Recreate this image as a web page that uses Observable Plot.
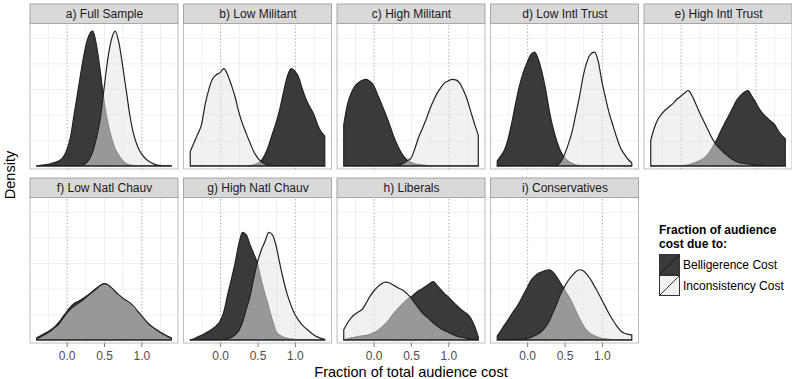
<!DOCTYPE html>
<html><head><meta charset="utf-8">
<script src="https://cdn.jsdelivr.net/npm/d3@7"></script>
<script src="https://cdn.jsdelivr.net/npm/@observablehq/plot@0.6"></script>
<style>
body{margin:0;background:#fff;font-family:"Liberation Sans",Arial,Helvetica,sans-serif;}
#wrap{position:relative;width:792px;height:379px;overflow:hidden;}
#wrap svg{position:absolute;left:0;top:0;}
.ylab{position:absolute;left:10px;top:175px;transform:translate(-50%,-50%) rotate(-90deg);font-size:14.5px;line-height:1;color:#000;white-space:nowrap;}
.xlab{position:absolute;left:411px;top:372px;transform:translate(-50%,-50%);font-size:14.5px;line-height:1;color:#000;white-space:nowrap;}
#legend{position:absolute;left:659px;top:223px;font-size:12px;color:#000;}
#legend .lt{font-weight:bold;line-height:14px;margin-bottom:3px;}
#legend .row{display:flex;align-items:center;height:21px;}
#legend .row svg{position:static;margin-right:3px;}
</style></head><body><div id="wrap"></div>
<script>
// x positions of the density estimates
const xs = [-0.4,-0.35,-0.3,-0.25,-0.2,-0.15,-0.1,-0.05,0,0.05,0.1,0.15,0.2,0.25,0.3,0.35,0.4,0.45,0.5,0.55,0.6,0.65,0.7,0.75,0.8,0.85,0.9,0.95,1,1.05,1.1,1.15,1.2,1.25,1.3,1.35,1.4];

const panelLabels = ["a) Full Sample","b) Low Militant","c) High Militant","d) Low Intl Trust","e) High Intl Trust","f) Low Natl Chauv","g) High Natl Chauv","h) Liberals","i) Conservatives"];
const panelCols = [1,2,3,4,5,1,2,3,4];
const panelRows = [1,1,1,1,1,2,2,2,2];

const seriesNames = ["Belligerence Cost","Inconsistency Cost"];

// Belligerence (B) and Inconsistency (I) densities per panel
const fullB = [0,0.01,0.02,0.03,0.05,0.07,0.1,0.16,0.3,0.55,1.0,1.45,1.9,2.3,2.55,2.63,2.35,1.85,1.27,0.85,0.55,0.33,0.2,0.1,0.04,0.02,0.01,0,0,0,0,0,0,0,0,0,0];
const fullI = [0,0,0,0,0,0,0,0,0,0,0,0,0.01,0.04,0.12,0.28,0.55,0.92,1.5,2.08,2.47,2.63,2.4,1.95,1.45,0.95,0.6,0.38,0.24,0.15,0.09,0.05,0.02,0.01,0,0,0];
const lowMilB = [0,0,0,0,0,0,0,0,0,0,0,0,0,0,0,0,0.01,0.02,0.05,0.1,0.22,0.4,0.63,0.85,1.12,1.45,1.75,1.9,1.85,1.73,1.5,1.3,1.15,1.02,0.82,0.67,0.58];
const lowMilI = [0.28,0.45,0.62,0.8,1.2,1.5,1.7,1.78,1.82,1.9,1.78,1.58,1.35,1.05,0.82,0.63,0.45,0.28,0.16,0.08,0.04,0.02,0.01,0,0,0,0,0,0,0,0,0,0,0,0,0,0];
const highMilB = [0.8,1.2,1.42,1.56,1.63,1.67,1.69,1.65,1.57,1.4,1.23,1.05,0.86,0.65,0.46,0.31,0.19,0.11,0.07,0.04,0.03,0.02,0.01,0,0,0,0,0,0,0,0,0,0,0,0,0,0];
const highMilI = [0,0,0,0,0,0,0,0,0,0,0,0,0,0,0.01,0.02,0.05,0.1,0.15,0.33,0.55,0.72,0.9,1.1,1.27,1.42,1.53,1.62,1.66,1.69,1.68,1.62,1.48,1.3,1.06,0.82,0.6];
const lowTrustB = [0.1,0.2,0.32,0.55,0.88,1.25,1.58,1.83,2.02,2.17,2.22,2.08,1.82,1.47,1.05,0.72,0.47,0.28,0.16,0.09,0.05,0.02,0.01,0,0,0,0,0,0,0,0,0,0,0,0,0,0];
const lowTrustI = [0,0,0,0,0,0,0,0,0,0,0,0,0,0,0,0,0.02,0.08,0.22,0.42,0.66,1.0,1.35,1.75,2.03,2.18,2.22,2.05,1.65,1.32,1.02,0.78,0.55,0.35,0.23,0.13,0.06];
const highTrustB = [0,0,0,0,0,0,0,0,0,0.01,0.02,0.04,0.07,0.1,0.14,0.2,0.3,0.42,0.56,0.72,0.86,1.0,1.14,1.28,1.37,1.44,1.47,1.37,1.25,1.12,1.02,0.95,0.88,0.82,0.7,0.6,0.53];
const highTrustI = [0.5,0.75,0.92,1.02,1.1,1.16,1.22,1.3,1.36,1.42,1.47,1.38,1.22,1.05,0.9,0.75,0.6,0.47,0.37,0.3,0.23,0.17,0.12,0.08,0.06,0.05,0.04,0.03,0.02,0.01,0.01,0,0,0,0,0,0];
const lowChauvB = [0.04,0.08,0.12,0.16,0.21,0.27,0.35,0.45,0.55,0.64,0.71,0.75,0.79,0.84,0.89,0.95,1.01,1.06,1.1,1.07,1.0,0.92,0.85,0.79,0.74,0.68,0.6,0.52,0.45,0.37,0.3,0.25,0.2,0.15,0.11,0.07,0.04];
const lowChauvI = [0.03,0.06,0.1,0.14,0.19,0.25,0.32,0.42,0.52,0.6,0.66,0.71,0.76,0.82,0.88,0.94,1.0,1.06,1.1,1.08,1.02,0.95,0.88,0.82,0.77,0.72,0.65,0.56,0.48,0.39,0.31,0.25,0.2,0.15,0.11,0.07,0.04];
const highChauvB = [0,0.02,0.06,0.09,0.13,0.17,0.22,0.28,0.37,0.55,0.88,1.18,1.5,1.87,2.1,2.05,1.86,1.68,1.49,1.17,0.9,0.64,0.38,0.16,0.09,0.05,0.03,0.02,0.01,0,0,0,0,0,0,0,0];
const highChauvI = [0,0,0,0,0,0,0,0,0,0.01,0.03,0.05,0.1,0.18,0.35,0.6,0.85,1.2,1.52,1.75,1.92,2.1,2.05,1.83,1.48,1.15,0.88,0.67,0.5,0.38,0.29,0.22,0.16,0.1,0.06,0.03,0.01];
const liberalB = [0,0.02,0.04,0.05,0.07,0.08,0.09,0.11,0.14,0.18,0.24,0.3,0.38,0.48,0.57,0.65,0.72,0.79,0.84,0.9,0.96,1.0,1.05,1.1,1.14,1.06,0.98,0.9,0.84,0.76,0.69,0.62,0.56,0.51,0.42,0.27,0.06];
const liberalI = [0.2,0.33,0.43,0.5,0.55,0.6,0.72,0.85,0.95,1.03,1.09,1.13,1.12,1.08,1.04,1.0,0.96,0.9,0.82,0.72,0.62,0.53,0.46,0.4,0.33,0.27,0.22,0.18,0.15,0.11,0.08,0.06,0.05,0.03,0.02,0.01,0];
const conservB = [0.08,0.18,0.3,0.4,0.52,0.62,0.74,0.88,1.02,1.16,1.24,1.3,1.33,1.36,1.37,1.32,1.22,1.1,0.98,0.86,0.73,0.57,0.42,0.28,0.18,0.12,0.08,0.05,0.03,0.02,0.01,0,0,0,0,0,0];
const conservI = [0,0,0,0,0,0.01,0.01,0.02,0.03,0.05,0.08,0.12,0.18,0.26,0.38,0.55,0.72,0.9,1.04,1.16,1.25,1.33,1.37,1.35,1.28,1.18,1.05,0.92,0.78,0.64,0.5,0.38,0.27,0.18,0.13,0.11,0.1];

const bellSeries = [fullB, lowMilB, highMilB, lowTrustB, highTrustB, lowChauvB, highChauvB, liberalB, conservB];
const incSeries = [fullI, lowMilI, highMilI, lowTrustI, highTrustI, lowChauvI, highChauvI, liberalI, conservI];

const yGrid = [0.5, 1, 1.5, 2, 2.5];
const xGrid = [-0.25, 0.25, 0.5, 0.75, 1.25];
const refLines = [0, 1];
const xTicks = [0, 0.5, 1];

// layout (styling) constants
const X_MIN = -0.49, X_MAX = 1.49, Y_MIN = -0.06, Y_TOP = 2.78, Y_STRIP = 3.16;

const panels = panelLabels.map((label, i) => ({label, col: panelCols[i], row: panelRows[i]}));
function rows(series, name) {
  const out = [];
  series.forEach((vals, p) => vals.forEach((v, i) => out.push({col: panels[p].col, row: panels[p].row, series: name, x: xs[i], y: v})));
  return out;
}
const bellData = rows(bellSeries, seriesNames[0]);
const incData = rows(incSeries, seriesNames[1]);
const cross = (vals) => panels.flatMap(p => vals.map(v => ({col: p.col, row: p.row, v})));
const yGridData = cross(yGrid);
const xGridData = cross(xGrid);
const refData = cross(refLines);
const tickData = panels.filter(p => p.row === 2).flatMap(p => xTicks.map(v => ({col: p.col, row: p.row, v})));

const DARK = "#3a3a3a", LIGHT = "#e6e6e6", LINE = "#222222";

const chart = Plot.plot({
  width: 792, height: 379,
  marginLeft: 30, marginRight: 0, marginTop: 4, marginBottom: 36,
  style: {fontFamily: '"Liberation Sans",Arial,sans-serif', background: "transparent"},
  fx: {domain: [1,2,3,4,5], paddingInner: 0.036, paddingOuter: 0, axis: null, round: false},
  fy: {domain: [1,2], paddingInner: 0.052, paddingOuter: 0, axis: null, round: false},
  x: {domain: [X_MIN, X_MAX], axis: null},
  y: {domain: [Y_MIN, Y_STRIP], axis: null},
  marks: [
    Plot.ruleY(yGridData, {fx: "col", fy: "row", y: "v", stroke: "#ebebeb", strokeWidth: 0.8}),
    Plot.ruleX(xGridData, {fx: "col", fy: "row", x: "v", y1: Y_MIN, y2: Y_TOP, stroke: "#ebebeb", strokeWidth: 0.8}),
    Plot.ruleX(refData, {fx: "col", fy: "row", x: "v", y1: Y_MIN, y2: Y_TOP, stroke: "#a0a0a0", strokeWidth: 1, strokeDasharray: "1.2,2.2"}),
    Plot.areaY(bellData, {fx: "col", fy: "row", x: "x", y: "y", fill: DARK, stroke: LINE, strokeWidth: 1.2, curve: "monotone-x"}),
    Plot.areaY(incData, {fx: "col", fy: "row", x: "x", y: "y", fill: LIGHT, fillOpacity: 0.55, stroke: LINE, strokeWidth: 1.2, curve: "monotone-x"}),
    Plot.rect(panels, {fx: "col", fy: "row", x1: X_MIN, x2: X_MAX, y1: Y_MIN, y2: Y_TOP, fill: "none", stroke: "#bdbdbd", strokeWidth: 1}),
    Plot.rect(panels, {fx: "col", fy: "row", x1: X_MIN, x2: X_MAX, y1: Y_TOP, y2: Y_STRIP, fill: "#d9d9d9", stroke: "#a6a6a6", strokeWidth: 1}),
    Plot.text(panels, {fx: "col", fy: "row", x: (X_MIN + X_MAX) / 2, y: (Y_TOP + Y_STRIP) / 2, text: "label", fontSize: 12, fill: "#1a1a1a"}),
    Plot.ruleX(tickData, {fx: "col", fy: "row", x: "v", y1: Y_MIN, y2: Y_MIN, insetBottom: -4, stroke: "#7f7f7f"}),
    Plot.text(tickData, {fx: "col", fy: "row", x: "v", y: Y_MIN, dy: 13, text: d => d.v.toFixed(1), fontSize: 12, fill: "#4d4d4d"})
  ]
});

const wrap = document.getElementById("wrap");
wrap.appendChild(chart);

const ylab = document.createElement("div");
ylab.className = "ylab"; ylab.textContent = "Density"; wrap.appendChild(ylab);
const xlab = document.createElement("div");
xlab.className = "xlab"; xlab.textContent = "Fraction of total audience cost"; wrap.appendChild(xlab);

const legend = document.createElement("div");
legend.id = "legend";
const keyFills = [DARK, "#f2f2f2"];
legend.innerHTML = `<div class="lt">Fraction of audience<br>cost due to:</div>` +
  seriesNames.map((name, i) => `<div class="row"><svg width="21" height="21"><rect x="0.5" y="0.5" width="20" height="20" fill="${keyFills[i]}" stroke="#333" stroke-width="1"/><line x1="1" y1="20" x2="20" y2="1" stroke="${i === 0 ? '#1a1a1a' : '#333'}" stroke-width="1"/></svg><span>${name}</span></div>`).join("");
wrap.appendChild(legend);
</script>
</body></html>
